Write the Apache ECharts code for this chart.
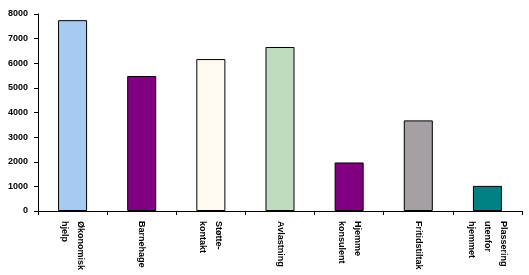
<!DOCTYPE html>
<html><head><meta charset="utf-8">
<script src="https://cdn.jsdelivr.net/npm/echarts@6/dist/echarts.min.js"></script>
<style>html,body{margin:0;padding:0;background:#fff}#c{width:529px;height:275px}</style>
</head><body><div id="c"></div>
<script>
var categories = ["Økonomisk\nhjelp", "Barnehage", "Støtte-\nkontakt", "Avlastning", "Hjemme\nkonsulent", "Fritidstiltak", "Plassering\nutenfor\nhjemmet"];
var values = [7750, 5480, 6170, 6660, 1970, 3680, 1020];
var colors = ["#A6CAF0", "#800080", "#FFFAF0", "#C0DCC0", "#800080", "#A4A0A4", "#008080"];
var yTicks = {min: 0, max: 8000, interval: 1000};

var chart = echarts.init(document.getElementById('c'), null, {renderer: 'canvas'});
chart.setOption({
  animation: false,
  backgroundColor: '#fff',
  grid: {left: 38, right: 7, top: 14, bottom: 64, containLabel: false},
  xAxis: {
    type: 'category',
    data: categories,
    axisLine: {lineStyle: {color: '#000', width: 1}},
    axisTick: {show: true, length: 4, lineStyle: {color: '#000'}},
    axisLabel: {
      rotate: -90, interval: 0, margin: 10,
      fontFamily: 'Liberation Sans, Arial, sans-serif', fontWeight: 'bold',
      fontSize: 9, color: '#000', lineHeight: 16
    }
  },
  yAxis: {
    type: 'value',
    min: yTicks.min, max: yTicks.max, interval: yTicks.interval,
    splitLine: {show: false},
    axisLine: {show: true, lineStyle: {color: '#000', width: 1}},
    axisTick: {show: true, length: 4, lineStyle: {color: '#000'}},
    axisLabel: {
      fontFamily: 'Liberation Sans, Arial, sans-serif', fontWeight: 'bold',
      fontSize: 9, color: '#000', margin: 10,
      formatter: function (v) { return String(v); }
    }
  },
  series: [{
    type: 'bar',
    barWidth: '42%',
    data: values.map(function (v, i) {
      return {value: v, itemStyle: {color: colors[i], borderColor: '#000', borderWidth: 1}};
    })
  }]
});
</script></body></html>
